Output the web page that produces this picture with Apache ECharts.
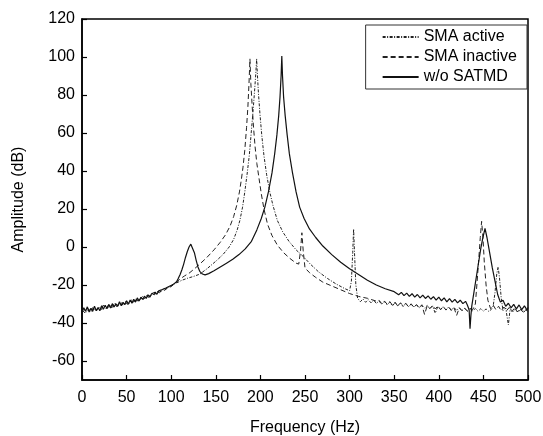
<!DOCTYPE html>
<html>
<head>
<meta charset="utf-8">
<script src="https://cdn.jsdelivr.net/npm/echarts@6/dist/echarts.min.js"></script>
<style>html,body{margin:0;padding:0;background:#fff;}#c{width:543px;height:436px;}</style>
</head>
<body>
<div id="c"></div>
<script>
// Tick labels
const xTicks = [0, 50, 100, 150, 200, 250, 300, 350, 400, 450, 500];
const yTicks = [-60, -40, -20, 0, 20, 40, 60, 80, 100, 120];
const seriesNames = ['SMA active', 'SMA inactive', 'w/o SATMD'];

// SMA active (dash-dot)
const activeF = [1.5,4.5,7.5,10.5,13.5,16.5,19.5,22.5,25.5,28.5,31.5,34.5,37.5,40.5,43.5,46.5,49.5,52.5,55.5,58.5,61.5,64.5,67.5,70.5,73.5,76.5,79.5,82.5,85.5,88.5,91.5,94.5,97.5,100.5,103.5,106.5,
  112,118,125,132,140,150,158,165,170,174,177,180,182.5,185,187.5,189.5,191.5,193.3,194.8,195.8,196.6,197.8,199.5,201.5,204,207,210.5,214,219,225,232,240,248,256,265,275,285,295,300,302,303.5,304.5,305.5,307,309,
  312,315,318,321,324,327,330,333,336,339,342,345,348,351,354,357,360,363,366,369,372,375,378,381,384,387,390,393,396,399,402,405,408,411,414,417,420,423,426,429,432,435,438,441,444,447,450,453,456,459,461,463,465,466.5,468,470,472,475,478,480,483,486,489,492,495,498,500];
const activeA = [-32.2,-34.3,-32.6,-34.1,-31.6,-33.4,-31.5,-33.2,-31.0,-32.6,-30.3,-31.8,-29.5,-31.0,-29.2,-30.4,-28.4,-29.9,-27.8,-29.1,-27.1,-28.0,-26.0,-27.0,-25.2,-26.0,-24.2,-24.7,-23.0,-23.5,-21.8,-22.2,-20.8,-20.6,-19.4,-18.8,
  -17.5,-16.5,-15.5,-14.3,-11.5,-7.5,-4,0,4,9,14,21,29,38,48,59,70,81,91,99,91,81,70,59,48,38,29,22,14,8,3,-1.5,-5,-9,-13,-16.5,-19.5,-22,-23,-18,-3,9.5,-3,-20,-27,
  -28.8,-27.4,-29.1,-27.8,-29.4,-28.0,-29.7,-28.4,-30.2,-28.7,-30.4,-29.0,-31.0,-29.3,-30.9,-29.6,-31.3,-29.8,-31.4,-30.1,-31.6,-30.4,-32.1,-30.7,-32.2,-30.8,-32.5,-31.0,-34.8,-31.2,-32.8,-31.4,-33.1,-31.6,-33.2,-31.8,-33.4,-32.0,-33.5,-32.2,-33.7,-32.3,-33.6,-32.4,-33.8,-32.5,-33.7,-32.6,-33.9,-32.8,-31,-24,-14,-10.5,-16,-27,-33.5,-32.1,-41,-32.4,-34.2,-32.6,-34.3,-32.8,-34.4,-33.0,-34.5];

// SMA inactive (dashed)
const inactiveF = [0,3,6,9,12,15,18,21,24,27,30,33,36,39,42,45,48,51,54,57,60,63,66,69,72,75,78,81,84,87,90,93,96,99,102,105,
  110,115,120,126,132,140,148,155,161,166,170,173.5,176.5,178.5,180.5,182.5,184.5,186,187.2,188.3,189.3,190.8,192.3,194,196,198.5,201,204,208,213,219,226,233,240,243,245,246.5,248,250,255,262,270,280,290,300,310,320,330,
  333,336,339,342,345,348,351,354,357,360,363,366,369,372,375,378,381,384,387,390,393,396,399,402,405,408,411,414,417,420,423,426,429,432,435,438,441,443,445,446.5,448,449.5,451,453,455,458,461,464,467,470,473,476,479,482,485,488,491,494,497,500];
const inactiveA = [-33.0,-34.6,-32.1,-33.8,-31.9,-34.0,-32.2,-33.1,-30.6,-32.5,-30.4,-31.9,-29.7,-31.4,-29.5,-30.6,-28.6,-30.2,-28.1,-29.3,-27.4,-28.5,-26.4,-27.5,-25.6,-26.5,-24.4,-25.2,-23.4,-24.1,-22.3,-22.8,-21.0,-21.2,-19.5,-18.9,
  -16.8,-15.2,-13.8,-11.5,-9,-5.5,-1.5,2.5,6.5,11,16,22,29,35,42,51,63,74,86,99,86,74,63,53,44,36,28,20,12,6,1,-3,-6,-8.5,-9,-2,7.5,-2,-11,-13.5,-16,-18.5,-20.5,-22.5,-24.5,-26,-27,-28.5,
  -28.0,-29.8,-28.4,-30.1,-28.7,-30.6,-29.0,-31.2,-29.4,-30.8,-29.6,-31.5,-29.9,-31.8,-30.3,-32.0,-30.4,-35.5,-30.9,-32.4,-30.8,-32.6,-31.1,-33.0,-31.3,-33.2,-31.5,-33.4,-31.9,-36.0,-32.0,-33.6,-32.2,-33.8,-32.5,-33.0,-30,-18,-5,5,13.5,5,-8,-20,-28,-32.4,-30.6,-33.0,-31.2,-33.6,-31.6,-33.5,-31.8,-34.0,-32.0,-34.2,-32.3,-34.1,-32.5,-34.0];

// w/o SATMD (solid)
const solidF = [0,2,4,6,8,10,12,14,16,18,20,22,24,26,28,30,32,34,36,38,40,42,44,46,48,50,52,54,56,58,60,62,64,66,68,70,72,74,76,78,80,82,84,86,88,90,92,94,96,98,100,102,104,106,
  108,110,112,114,116,118,120,122,124,126,128,130,132,135,138,142,148,155,162,169,176,183,190,196,201,205,209,213,216,218.5,220.5,222,223.2,224,224.8,226,227.8,230,232.5,236,240,244,249,255,262,270,280,290,300,310,320,330,340,350,
  352,355,358,361,364,367,370,373,376,379,382,385,388,391,394,397,400,403,406,409,412,415,418,421,424,427,430,432,434,435,436,437,440,444,447,449,451.8,454,457,460,463,466,469,472,475,478,481,484,487,490,493,496,499,500];
const solidA = [-34.5,-32.0,-33.8,-31.5,-34.2,-32.3,-33.9,-31.2,-33.5,-31.8,-33.6,-30.9,-32.8,-30.7,-32.4,-30.2,-32.1,-29.8,-31.6,-29.9,-31.2,-28.8,-30.9,-29.1,-30.4,-28.3,-30.1,-27.9,-29.6,-27.5,-29.0,-26.8,-28.4,-26.5,-27.6,-25.9,-27.1,-25.2,-26.4,-24.6,-25.5,-23.8,-24.9,-23.1,-23.9,-22.4,-23.0,-21.6,-22.1,-20.7,-21.0,-19.8,-19.6,-18.3,
  -16.5,-14.5,-12,-9,-5.5,-2.5,0,1.5,0.5,-3,-7,-10.5,-12.8,-14.2,-14.7,-14,-12.5,-10.5,-8.5,-6.5,-4,-1,3,9,15,21,29,39,49,59,69,79,90,100.5,90,79,69,59,49,39,29,21,15,9.5,5,0.5,-4,-8,-11.5,-14.5,-17.5,-20,-22,-23.5,
  -23.2,-25.1,-23.9,-25.6,-24.3,-26.0,-24.6,-26.4,-25.0,-26.8,-25.3,-27.1,-25.7,-27.5,-26.1,-28.0,-26.4,-28.3,-26.8,-28.9,-27.2,-29.0,-27.6,-29.4,-28.0,-29.8,-28.6,-30.5,-33,-43,-36,-31,-22,-10,-1,4,9.8,5,-3,-11,-18,-25,-29,-28,-31.2,-29.6,-32.0,-30.2,-32.6,-30.5,-33.0,-31.0,-33.2,-31.8];

function pairs(f, a) { return f.map((x, i) => [x, a[i]]); }

const font = "'Liberation Sans', Arial, sans-serif";
const chart = echarts.init(document.getElementById('c'), null, {renderer: 'canvas'});
chart.setOption({
  animation: false,
  backgroundColor: '#fff',
  grid: {left: 82, right: 15, top: 19, bottom: 56, show: true, borderColor: '#000', borderWidth: 1.5, backgroundColor: 'transparent', containLabel: false, outerBoundsMode: 'none'},
  legend: {
    orient: 'vertical', right: 16, top: 25,
    data: seriesNames,
    itemWidth: 36, itemHeight: 12, itemGap: 4,
    padding: [4, 10, 4, 16],
    borderColor: '#333', borderWidth: 1, backgroundColor: '#fff',
    itemStyle: {opacity: 0},
    textStyle: {fontFamily: font, fontSize: 16, color: '#000'}
  },
  xAxis: {
    type: 'value', min: 0, max: 500, interval: 50,
    name: 'Frequency (Hz)', nameLocation: 'middle', nameGap: 40,
    nameTextStyle: {fontFamily: font, fontSize: 16, color: '#000'},
    axisLine: {show: true, onZero: false, lineStyle: {color: '#000', width: 1.5}},
    axisTick: {inside: true, length: 5, lineStyle: {color: '#000', width: 1.2}},
    axisLabel: {fontFamily: font, fontSize: 16, color: '#000', margin: 10},
    splitLine: {show: false}
  },
  yAxis: {
    type: 'value', min: -70, max: 120,
    name: 'Amplitude (dB)', nameLocation: 'middle', nameGap: 55,
    nameTextStyle: {fontFamily: font, fontSize: 16, color: '#000'},
    axisLine: {show: true, onZero: false, lineStyle: {color: '#000', width: 1.5}},
    axisTick: {inside: true, length: 5, customValues: yTicks, lineStyle: {color: '#000', width: 1.2}},
    axisLabel: {fontFamily: font, fontSize: 16, color: '#000', margin: 7, customValues: yTicks},
    splitLine: {show: false}
  },
  series: [
    {name: seriesNames[0], type: 'line', symbol: 'none', data: pairs(activeF, activeA),
     lineStyle: {color: '#222', width: 1, type: [3, 1.5, 1, 1.5]}, itemStyle: {color: '#222'}, z: 3},
    {name: seriesNames[1], type: 'line', symbol: 'none', data: pairs(inactiveF, inactiveA),
     lineStyle: {color: '#222', width: 1, type: [5, 3]}, itemStyle: {color: '#222'}, z: 2},
    {name: seriesNames[2], type: 'line', symbol: 'none', data: pairs(solidF, solidA),
     lineStyle: {color: '#111', width: 1.2, type: 'solid'}, itemStyle: {color: '#111'}, z: 4}
  ]
});
</script>
</body>
</html>
